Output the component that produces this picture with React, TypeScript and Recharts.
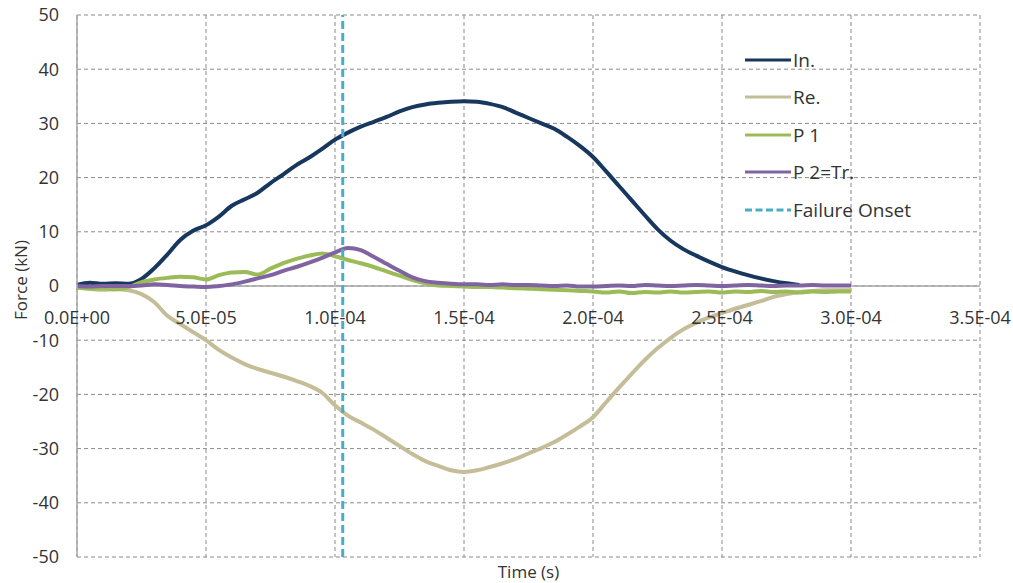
import React from "react"
import { LineChart, Line, XAxis, YAxis, CartesianGrid, ReferenceLine } from "recharts"

// time in seconds, sampled every 5 µs
const timeS = [
    0, 5e-6, 10e-6, 15e-6, 20e-6, 25e-6, 30e-6, 35e-6, 40e-6, 45e-6,
    50e-6, 55e-6, 60e-6, 65e-6, 70e-6, 75e-6, 80e-6, 85e-6, 90e-6, 95e-6,
    100e-6, 105e-6, 110e-6, 115e-6, 120e-6, 125e-6, 130e-6, 135e-6, 140e-6, 145e-6,
    150e-6, 155e-6, 160e-6, 165e-6, 170e-6, 175e-6, 180e-6, 185e-6, 190e-6, 195e-6,
    200e-6, 205e-6, 210e-6, 215e-6, 220e-6, 225e-6, 230e-6, 235e-6, 240e-6, 245e-6,
    250e-6, 255e-6, 260e-6, 265e-6, 270e-6, 275e-6, 280e-6, 285e-6, 290e-6, 295e-6,
    300e-6,
]

// forces in kN
const incident = [
    0.2, 0.6, 0.4, 0.5, 0.4, 1.3, 3.3, 5.8, 8.5, 10.2,
    11.2, 12.8, 14.8, 16.0, 17.2, 19.0, 20.6, 22.3, 23.7, 25.3,
    27.0, 28.3, 29.4, 30.3, 31.2, 32.2, 33.0, 33.5, 33.8, 34.0,
    34.1, 34.0, 33.6, 33.0, 32.0, 31.0, 30.0, 29.0, 27.5, 25.8,
    23.8, 21.2, 18.5, 15.8, 13.1, 10.5, 8.4, 6.8, 5.6, 4.5,
    3.5, 2.7, 2.0, 1.4, 0.9, 0.5, 0.2, null, null, null,
    null,
]

const reflected = [
    -0.3, -0.5, -0.7, -0.6, -0.8, -1.5, -3.0, -5.5, -7.0, -8.5,
    -10.0, -11.8, -13.2, -14.4, -15.3, -16.0, -16.7, -17.5, -18.4, -19.7,
    -22.0, -23.9, -25.2, -26.5, -28.0, -29.5, -31.0, -32.3, -33.2, -34.0,
    -34.3, -34.0, -33.4, -32.7, -31.9, -30.9, -29.9, -28.8, -27.4, -25.9,
    -24.2, -21.5, -18.8, -16.2, -13.7, -11.5, -9.6, -8.0, -6.8, -5.8,
    -5.0, -4.2, -3.5, -2.8, -2.0, -1.5, -1.1, -0.9, -0.8, -0.8,
    -0.8,
]

const p1 = [
    -0.3, -0.5, -0.4, -0.6, -0.2, 0.7, 1.2, 1.5, 1.7, 1.6,
    1.2, 2.0, 2.5, 2.6, 2.1, 3.2, 4.2, 5.0, 5.6, 6.0,
    5.5, 4.8, 4.2, 3.5, 2.7, 1.9, 1.1, 0.5, 0.1, 0.0,
    -0.1, -0.2, -0.2, -0.3, -0.4, -0.5, -0.6, -0.7, -0.8, -0.9,
    -1.0, -1.2, -1.0, -1.3, -1.1, -1.2, -1.0, -1.2, -1.1, -1.0,
    -1.2, -1.0, -1.1, -0.9, -1.1, -1.0, -1.2, -1.0, -1.1, -1.0,
    -1.0,
]

const p2 = [
    0.0, -0.1, 0.0, 0.0, 0.0, 0.1, 0.3, 0.2, 0.0, -0.1,
    -0.2, 0.0, 0.3, 0.8, 1.4, 2.0, 2.8, 3.5, 4.3, 5.2,
    6.2, 7.0, 6.6, 5.4, 4.1, 2.8, 1.6, 0.9, 0.6, 0.4,
    0.3, 0.3, 0.2, 0.3, 0.2, 0.2, 0.1, 0.0, 0.1, -0.1,
    -0.1, 0.0, 0.1, 0.0, 0.2, 0.1, 0.0, 0.1, 0.2, 0.1,
    0.0, 0.1, 0.2, 0.1, 0.0, 0.1, 0.1, 0.2, 0.1, 0.1,
    0.1,
]

const failureOnset = 1.03e-4

const xTicks = [0, 5e-5, 1e-4, 1.5e-4, 2e-4, 2.5e-4, 3e-4, 3.5e-4]
const yTicks = [-50, -40, -30, -20, -10, 0, 10, 20, 30, 40, 50]

const series = [
    { key: "inc", name: "In.", color: "#17375E" },
    { key: "re", name: "Re.", color: "#C4BD97" },
    { key: "p1", name: "P 1", color: "#9BBB59" },
    { key: "p2", name: "P 2=Tr.", color: "#8064A2" },
]

const data = timeS.map((t, i) => ({
    t,
    inc: incident[i],
    re: reflected[i],
    p1: p1[i],
    p2: p2[i],
}))

const W = 1013
const H = 583
const MARGIN = { top: 15, right: 33, bottom: 0, left: 0 }
const X_AXIS_H = 26
const PLOT_H = H - MARGIN.top - MARGIN.bottom - X_AXIS_H
const FONT = "'Open Sans', sans-serif"
const TEXT = "#333333"
const TICK_SIZE = 18
const ONSET_COLOR = "#4BACC6"

function fmtSci(v: number) {
    if (v === 0) return "0.0E+00"
    const [m, e] = v.toExponential(1).split("e")
    const n = parseInt(e, 10)
    const sign = n < 0 ? "-" : "+"
    return `${m}E${sign}${String(Math.abs(n)).padStart(2, "0")}`
}

// x labels sit just under the zero line, like the Excel original
function XTick(props: any) {
    const { x, payload } = props
    const y = MARGIN.top + PLOT_H / 2 + 31
    return (
        <text x={x} y={y} textAnchor="middle" dominantBaseline="central" fill={TEXT} fontSize={TICK_SIZE} fontFamily={FONT}>
            {fmtSci(payload.value)}
        </text>
    )
}

function ChartLegend() {
    const rows = [
        ...series.map((s) => ({ name: s.name, color: s.color, dash: undefined as string | undefined })),
        { name: "Failure Onset", color: ONSET_COLOR, dash: "7 3.5" },
    ]
    return (
        <div style={{ position: "absolute", left: 745, top: 41, fontFamily: FONT, fontSize: 19, color: TEXT }}>
            {rows.map((r) => (
                <div key={r.name} style={{ display: "flex", alignItems: "center", height: 37.5 }}>
                    <svg width={46} height={6} style={{ marginRight: 2 }}>
                        <line x1={0} y1={3} x2={46} y2={3} stroke={r.color} strokeWidth={3} strokeDasharray={r.dash} />
                    </svg>
                    <span>{r.name}</span>
                </div>
            ))}
        </div>
    )
}

export default function App() {
    return (
        <div style={{ position: "absolute", left: 0, top: 0, width: W, height: H, background: "#fff" }}>
            <LineChart width={W} height={H} data={data} margin={MARGIN}>
                <CartesianGrid stroke="#8A8A8A" strokeDasharray="4 3" />
                <XAxis
                    dataKey="t"
                    type="number"
                    domain={[0, 3.5e-4]}
                    ticks={xTicks}
                    height={X_AXIS_H}
                    axisLine={false}
                    tickLine={false}
                    tick={<XTick />}
                    interval={0}
                />
                <YAxis
                    type="number"
                    domain={[-50, 50]}
                    ticks={yTicks}
                    width={77}
                    axisLine={{ stroke: "#A6A6A6", strokeWidth: 1.5 }}
                    tickLine={false}
                    tickSize={0}
                    tickMargin={18}
                    tick={{ fill: TEXT, fontSize: TICK_SIZE, fontFamily: FONT }}
                    interval={0}
                />
                <ReferenceLine y={0} stroke="#A6A6A6" strokeWidth={1.5} />
                {series.map((s) => (
                    <Line
                        key={s.key}
                        type="monotone"
                        dataKey={s.key}
                        name={s.name}
                        stroke={s.color}
                        strokeWidth={4}
                        dot={false}
                        connectNulls={false}
                        isAnimationActive={false}
                    />
                ))}
                <ReferenceLine x={failureOnset} stroke={ONSET_COLOR} strokeWidth={3} strokeDasharray="8 4" />
            </LineChart>
            <ChartLegend />
            <div
                style={{
                    position: "absolute",
                    left: 0,
                    top: 560,
                    width: 1057,
                    textAlign: "center",
                    fontFamily: FONT,
                    fontSize: 17,
                    color: TEXT,
                }}
            >
                Time (s)
            </div>
            <div
                style={{
                    position: "absolute",
                    left: 20,
                    top: 280,
                    transform: "translate(-50%, -50%) rotate(-90deg)",
                    whiteSpace: "nowrap",
                    fontFamily: FONT,
                    fontSize: 17,
                    color: TEXT,
                }}
            >
                Force (kN)
            </div>
        </div>
    )
}
